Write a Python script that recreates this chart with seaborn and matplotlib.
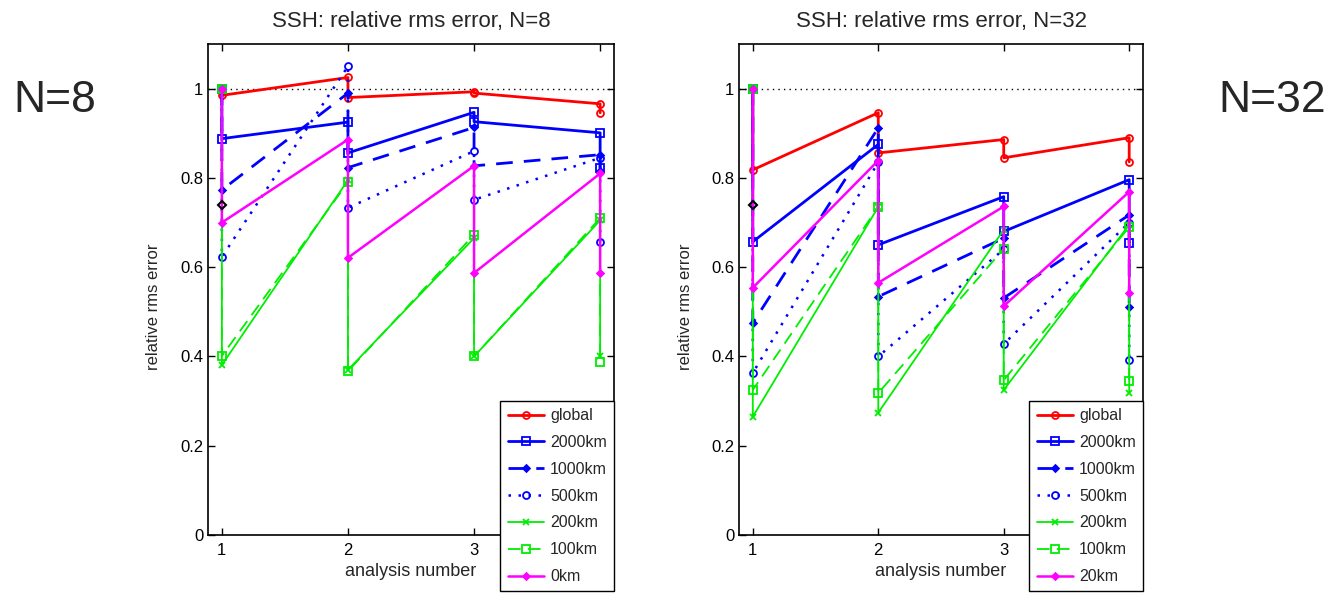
import numpy as np
import pandas as pd
import matplotlib
matplotlib.use("Agg")
import matplotlib.pyplot as plt
from matplotlib.lines import Line2D
from matplotlib.ticker import FuncFormatter
import seaborn as sns

# ---------------- data ----------------
analysis_numbers = [1, 2, 3, 4]
series_names_8 = ["global", "2000km", "1000km", "500km", "200km", "100km", "0km"]
series_names_32 = ["global", "2000km", "1000km", "500km", "200km", "100km", "20km"]

# N=8 : analysis values (a1..a4) and forecast values (f2..f4)
n8_global_a = [0.985, 0.980, 0.990, 0.946]
n8_global_f = [1.025, 0.993, 0.966]
n8_2000_a = [0.888, 0.856, 0.926, 0.823]
n8_2000_f = [0.925, 0.947, 0.901]
n8_1000_a = [0.773, 0.823, 0.827, 0.815]
n8_1000_f = [0.990, 0.913, 0.852]
n8_500_a = [0.623, 0.733, 0.751, 0.657]
n8_500_f = [1.050, 0.860, 0.845]
n8_200_a = [0.381, 0.370, 0.400, 0.400]
n8_200_f = [0.795, 0.665, 0.705]
n8_100_a = [0.401, 0.367, 0.400, 0.387]
n8_100_f = [0.790, 0.673, 0.710]
n8_0_a = [0.700, 0.621, 0.587, 0.587]
n8_0_f = [0.886, 0.827, 0.810]

# N=32
n32_global_a = [0.818, 0.856, 0.845, 0.836]
n32_global_f = [0.946, 0.886, 0.890]
n32_2000_a = [0.657, 0.650, 0.680, 0.655]
n32_2000_f = [0.875, 0.758, 0.796]
n32_1000_a = [0.475, 0.534, 0.531, 0.510]
n32_1000_f = [0.912, 0.665, 0.717]
n32_500_a = [0.363, 0.400, 0.428, 0.392]
n32_500_f = [0.835, 0.640, 0.700]
n32_200_a = [0.265, 0.274, 0.325, 0.318]
n32_200_f = [0.735, 0.684, 0.695]
n32_100_a = [0.325, 0.318, 0.347, 0.345]
n32_100_f = [0.735, 0.641, 0.690]
n32_20_a = [0.554, 0.565, 0.513, 0.542]
n32_20_f = [0.839, 0.736, 0.769]

prior_value = 1.0
ref_point_value = 0.74   # black diamond at analysis 1

panels = [
    ("SSH: relative rms error, N=8", "N=8", series_names_8,
     [(n8_global_a, n8_global_f), (n8_2000_a, n8_2000_f), (n8_1000_a, n8_1000_f),
      (n8_500_a, n8_500_f), (n8_200_a, n8_200_f), (n8_100_a, n8_100_f), (n8_0_a, n8_0_f)]),
    ("SSH: relative rms error, N=32", "N=32", series_names_32,
     [(n32_global_a, n32_global_f), (n32_2000_a, n32_2000_f), (n32_1000_a, n32_1000_f),
      (n32_500_a, n32_500_f), (n32_200_a, n32_200_f), (n32_100_a, n32_100_f), (n32_20_a, n32_20_f)]),
]

# ---------------- styles ----------------
styles = [
    dict(color="#ff0000", ls="-", marker="o", mfc="none", lw=2.0, ms=5),
    dict(color="#0000ff", ls="-", marker="s", mfc="none", lw=2.0, ms=6),
    dict(color="#0000ff", ls=(0, (6, 4)), marker="D", mfc="#0000ff", lw=2.0, ms=3.5),
    dict(color="#0000ff", ls=(0, (1, 3)), marker="o", mfc="none", lw=1.8, ms=5),
    dict(color="#00ee00", ls="-", marker="x", mfc="none", lw=1.3, ms=5),
    dict(color="#00ee00", ls=(0, (7, 4)), marker="s", mfc="none", lw=1.3, ms=6),
    dict(color="#ff00ff", ls="-", marker="D", mfc="#ff00ff", lw=1.8, ms=3.5),
]

sns.set_style("ticks")
plt.rcParams["font.family"] = ["Liberation Sans", "DejaVu Sans"]

fig = plt.figure(figsize=(13.3, 5.93), dpi=100)
W, H = 1330, 593
axes_px = [(208, 44, 614, 535), (739, 44, 1143, 535)]
legend_px = [(614, 401), (1143, 401)]
side_text_px = [(55, 100), (1272, 100)]

for (title, side, names, data), (l, t, r, b), (lx, ly), (tx, ty) in zip(
        panels, axes_px, legend_px, side_text_px):
    ax = fig.add_axes([l / W, 1 - b / H, (r - l) / W, (b - t) / H])
    ax.axhline(prior_value, color="black", ls=(0, (1, 3)), lw=1.0, zorder=1)
    handles = []
    for name, (a_vals, f_vals), st in zip(names, data, styles):
        xs, ys = [], []
        xs += [analysis_numbers[0], analysis_numbers[0]]
        ys += [prior_value, a_vals[0]]
        for k in range(1, 4):
            xs += [analysis_numbers[k], analysis_numbers[k]]
            ys += [f_vals[k - 1], a_vals[k]]
        df = pd.DataFrame({"x": xs, "y": ys})
        sns.lineplot(data=df, x="x", y="y", sort=False, estimator=None, ax=ax,
                     color=st["color"], linestyle=st["ls"], linewidth=st["lw"],
                     marker=st["marker"], markersize=st["ms"],
                     markerfacecolor=st["mfc"], markeredgecolor=st["color"],
                     markeredgewidth=1.3, legend=False)
        handles.append(Line2D([], [], color=st["color"], linestyle=st["ls"],
                              linewidth=st["lw"], marker=st["marker"],
                              markersize=st["ms"], markerfacecolor=st["mfc"],
                              markeredgecolor=st["color"], markeredgewidth=1.3,
                              label=name))
    ax.plot([analysis_numbers[0]], [ref_point_value], marker="D", color="black",
            mfc="none", ms=4, mew=1.5, ls="none", zorder=5)

    ax.set_xlim(0.89, 4.11)
    ax.set_ylim(0, 1.1)
    ax.set_xticks(analysis_numbers)
    ax.set_yticks([0, 0.2, 0.4, 0.6, 0.8, 1.0])
    ax.yaxis.set_major_formatter(FuncFormatter(lambda v, p: f"{v:g}"))
    ax.tick_params(direction="in", top=True, right=True, length=5, width=1,
                   labelsize=12, colors="black")
    ax.tick_params(axis="x", pad=6)
    for sp in ax.spines.values():
        sp.set_visible(True)
        sp.set_color("black")
        sp.set_linewidth(1.2)
    ax.set_title(title, fontsize=16, pad=12)
    ax.set_xlabel("analysis number", fontsize=13, labelpad=3)
    ax.set_ylabel("relative rms error", fontsize=12, labelpad=6)
    ax.yaxis.set_label_coords(-0.115, 0.465)
    ax.grid(False)

    leg = fig.legend(handles=handles, loc="upper right",
                     bbox_to_anchor=(lx / W, 1 - ly / H), fontsize=11.5,
                     frameon=True, fancybox=False, framealpha=1, edgecolor="black",
                     handlelength=2.3, labelspacing=0.74, borderpad=0.45,
                     handletextpad=0.35, borderaxespad=0)
    leg.get_frame().set_linewidth(1.0)
    fig.text(tx / W, 1 - ty / H, side, fontsize=32, ha="center", va="center")

fig.savefig("out.png", dpi=100)
